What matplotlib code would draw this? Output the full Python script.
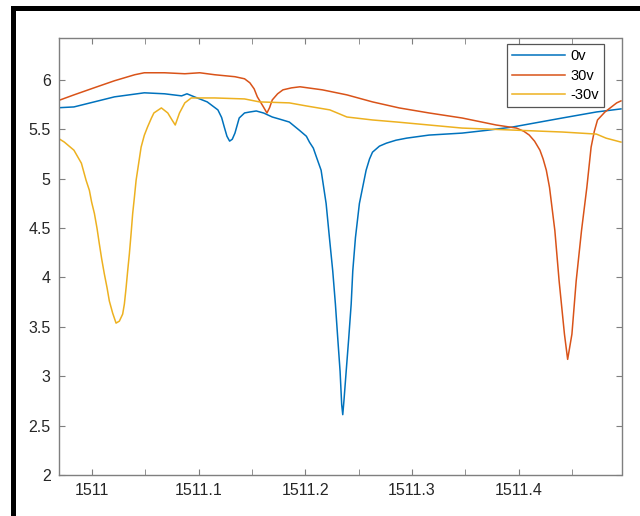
import matplotlib
matplotlib.use("Agg")
import matplotlib.pyplot as plt
from matplotlib import ticker
from matplotlib.patches import Rectangle

plt.rcParams['font.family'] = ['Liberation Sans', 'DejaVu Sans']

# 0v
wl_0v = [1510.965, 1510.983, 1511.002, 1511.021, 1511.049, 1511.068, 1511.084, 1511.089,
         1511.096, 1511.108, 1511.118, 1511.1215, 1511.124, 1511.1265, 1511.129, 1511.1315,
         1511.134, 1511.138, 1511.143, 1511.148, 1511.154, 1511.161, 1511.169, 1511.177,
         1511.185, 1511.1945, 1511.201, 1511.2039, 1511.2075, 1511.2104, 1511.2148,
         1511.2195, 1511.2226, 1511.2257, 1511.2282, 1511.2304, 1511.2326, 1511.2341,
         1511.2351, 1511.2362, 1511.2383, 1511.2407, 1511.2430, 1511.2445, 1511.2470,
         1511.2507, 1511.2570, 1511.2602, 1511.2630, 1511.2695, 1511.276, 1511.285,
         1511.295, 1511.316, 1511.347, 1511.370, 1511.394, 1511.418, 1511.441, 1511.473,
         1511.496]
p_0v = [5.717, 5.727, 5.778, 5.829, 5.870, 5.860, 5.839, 5.860,
        5.829, 5.778, 5.697, 5.62, 5.523, 5.43, 5.381, 5.40,
        5.462, 5.615, 5.666, 5.676, 5.686, 5.665, 5.625, 5.600,
        5.574, 5.49, 5.43, 5.37, 5.31, 5.22, 5.086,
        4.749, 4.403, 4.067, 3.731, 3.385, 3.049, 2.713,
        2.611, 2.75, 3.049, 3.385, 3.731, 4.067, 4.403,
        4.749, 5.086, 5.20, 5.269, 5.33, 5.360, 5.39,
        5.411, 5.442, 5.462, 5.49, 5.523, 5.57, 5.615, 5.676,
        5.707]

# 30v
wl_30v = [1510.965, 1510.983, 1511.002, 1511.021, 1511.040, 1511.049, 1511.068, 1511.087,
          1511.101, 1511.115, 1511.134, 1511.143, 1511.148, 1511.152, 1511.155, 1511.160,
          1511.164, 1511.1665, 1511.169, 1511.174, 1511.179, 1511.187, 1511.195, 1511.216,
          1511.239, 1511.263, 1511.288, 1511.316, 1511.347, 1511.379, 1511.398, 1511.405,
          1511.410, 1511.415, 1511.420, 1511.423, 1511.426, 1511.429, 1511.434, 1511.438,
          1511.443, 1511.446, 1511.450, 1511.454, 1511.459, 1511.464, 1511.468, 1511.471,
          1511.474, 1511.481, 1511.492, 1511.496]
p_30v = [5.778, 5.849, 5.921, 5.992, 6.053, 6.073, 6.073, 6.063,
         6.073, 6.053, 6.033, 6.012, 5.971, 5.91, 5.829, 5.74,
         5.666, 5.72, 5.798, 5.86, 5.900, 5.92, 5.931, 5.900,
         5.849, 5.778, 5.717, 5.666, 5.615, 5.544, 5.513, 5.48,
         5.442, 5.38, 5.289, 5.20, 5.086, 4.912, 4.475, 3.965,
         3.426, 3.171, 3.426, 3.965, 4.475, 4.912, 5.320, 5.48,
         5.595, 5.676, 5.768, 5.788]

# -30v
wl_m30v = [1510.965, 1510.974, 1510.983, 1510.990, 1510.9944, 1510.9975, 1510.9996, 1511.0022,
           1511.0047, 1511.0068, 1511.0090, 1511.0115, 1511.0141, 1511.0162, 1511.0193,
           1511.0225, 1511.0256, 1511.0287, 1511.0303, 1511.0319, 1511.0334, 1511.0350,
           1511.0366, 1511.0381, 1511.0397, 1511.0413, 1511.046, 1511.049,
           1511.052, 1511.0557, 1511.058, 1511.065, 1511.071, 1511.075, 1511.078, 1511.082,
           1511.087, 1511.093, 1511.115, 1511.143, 1511.157, 1511.185, 1511.201, 1511.223,
           1511.239, 1511.263, 1511.286, 1511.316, 1511.347, 1511.394, 1511.441, 1511.473,
           1511.482, 1511.496]
p_m30v = [5.432, 5.371, 5.289, 5.157, 4.984, 4.882, 4.763, 4.648,
          4.495, 4.342, 4.190, 4.037, 3.894, 3.762, 3.640,
          3.538, 3.558, 3.629, 3.731, 3.894, 4.067, 4.240,
          4.444, 4.648, 4.811, 4.984, 5.320, 5.44,
          5.523, 5.615, 5.666, 5.717, 5.666, 5.595, 5.544, 5.666,
          5.768, 5.818, 5.818, 5.808, 5.778, 5.768, 5.737, 5.697,
          5.625, 5.595, 5.574, 5.544, 5.513, 5.493, 5.473, 5.452,
          5.411, 5.371]

labels = ["0v", "30v", "-30v"]
colors = ["#0072BD", "#D95319", "#EDB120"]

fig = plt.figure(figsize=(6.4, 5.16), dpi=100)
ax = fig.add_axes([59 / 640, 1 - 475 / 516, 562.5 / 640, 437 / 516])

for wl, p, lab, c in zip([wl_0v, wl_30v, wl_m30v], [p_0v, p_30v, p_m30v], labels, colors):
    ax.plot(wl, p, color=c, lw=1.1, label=lab)

ax.set_xlim(1510.969, 1511.4965)
ax.set_ylim(2, 6.425)
ax.xaxis.set_major_locator(ticker.FixedLocator([1511.0, 1511.1, 1511.2, 1511.3, 1511.4]))
ax.xaxis.set_minor_locator(ticker.FixedLocator([1511.05, 1511.15, 1511.25, 1511.35, 1511.45]))
ax.xaxis.set_major_formatter(ticker.FuncFormatter(lambda v, pos: "%g" % round(v, 2)))
ax.yaxis.set_major_locator(ticker.MultipleLocator(0.5))
ax.yaxis.set_major_formatter(ticker.FuncFormatter(lambda v, pos: "%g" % v))

spine_c = "#7f7f7f"
for s in ax.spines.values():
    s.set_color(spine_c)
    s.set_linewidth(1.0)
ax.tick_params(which="both", direction="in", top=True, right=True, length=4,
               color=spine_c, labelsize=11.5, labelcolor="#262626", pad=6)

leg = ax.legend(loc="upper right", bbox_to_anchor=(0.969, 0.986), borderaxespad=0,
                fancybox=False, framealpha=1, edgecolor="#555555", fontsize=10.5,
                handlelength=3.6, labelspacing=0.38, handletextpad=0.4, borderpad=0.35)
leg.get_frame().set_linewidth(0.9)

# black frame from the screenshot
fig.add_artist(Rectangle((11 / 640, 0), 4.5 / 640, 1 - 6 / 516, transform=fig.transFigure,
                         color="black", lw=0))
fig.add_artist(Rectangle((11 / 640, 1 - 11 / 516), 1 - 11 / 640, 5 / 516, transform=fig.transFigure,
                         color="black", lw=0))

fig.savefig("out.png", dpi=100)
